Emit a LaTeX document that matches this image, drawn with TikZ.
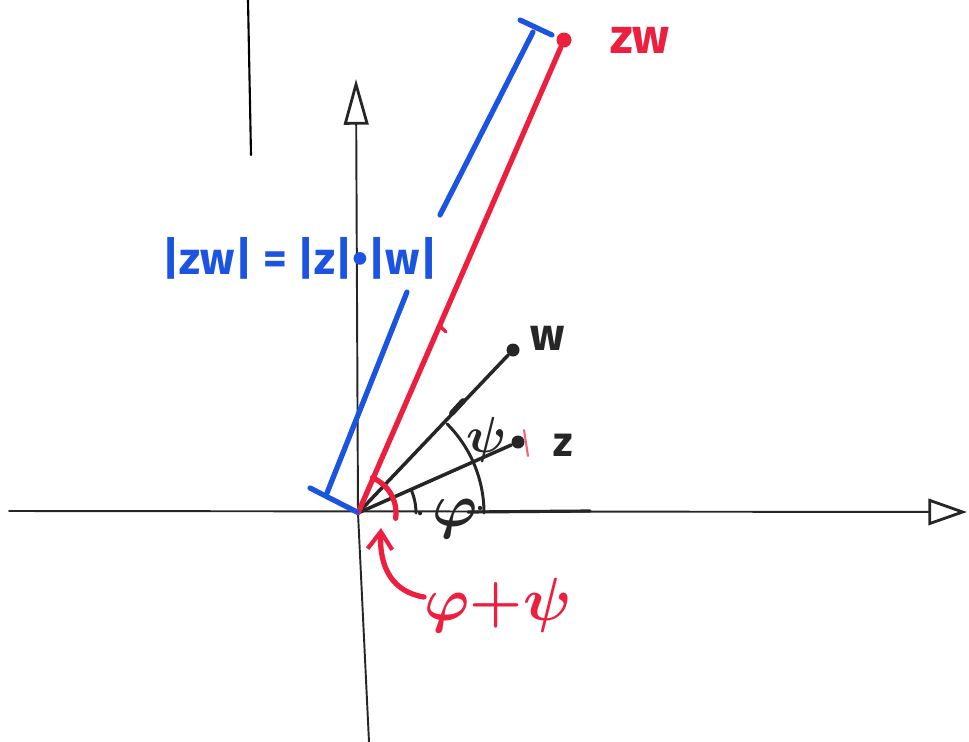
\documentclass[tikz,border=0pt]{standalone}
\usepackage{fontspec}
\setsansfont{Fira Sans}
\usepackage{amsmath}
\usepackage{bm}
\usetikzlibrary{arrows.meta}
\definecolor{penred}{RGB}{236,32,62}
\definecolor{penblue}{RGB}{28,84,226}
\definecolor{ink}{RGB}{38,38,38}
\begin{document}
\begin{tikzpicture}[x=0.01cm,y=-0.01cm,line cap=round,line join=round]
\tikzset{
  axis/.style={line width=0.55pt,black!85},
  vec/.style={line width=1pt,ink},
  rvec/.style={line width=1.5pt,penred},
  bvec/.style={line width=1.5pt,penblue},
  ang/.style={line width=0.85pt,ink},
  dot/.style={circle,fill=#1,inner sep=0pt,minimum size=0.13cm},
  hand/.style={inner sep=1pt,font=\sffamily\bfseries\fontsize{#1}{#1}\selectfont}}
\useasboundingbox (0,0) rectangle (969,742);
% ---------- axes ----------
\coordinate (O) at (358,513);
\coordinate (xs) at (9,511);
\coordinate (xe) at (967,512);
\coordinate (ys) at (369,742);
\coordinate (ye) at (356,79);
\draw[axis,-{Triangle[open,length=11pt,width=7.5pt,line width=0.8pt]}] (xs) -- (xe);
\draw[axis,-{Triangle[open,length=13pt,width=7pt,line width=0.8pt]}] (ys) -- (O) -- (ye);
% margin stroke
\coordinate (mtop) at (248,0);
\coordinate (mbot) at (251,155);
\draw[line width=0.6pt] (mtop) -- (mbot);
% ---------- z, w and zw ----------
\node[dot=ink] (w) at (513,350) {};
\node[dot=ink] (z) at (518,442) {};
\node[dot=penred,minimum size=0.15cm] (zw) at (564,40) {};
\draw[vec] (O) -- (w);
\draw[vec] (O) -- (z);
\draw[rvec] (O) -- (zw);
\draw[ink,line width=1.6pt] (452,413) -- (463,401);
\draw[ink,line width=0.9pt] (468,512) -- (590,511);
\draw[penred,line width=1pt] (440,326) -- (446,332);
\draw[penred!70,line width=0.6pt] (524,430) -- (528,456);
\node[hand=13,ink] (wl) at (548,338) {w};
\node[hand=12,ink] (zl) at (563,445) {z};
\node[hand=14,penred] (zwl) at (640,40) {zw};
% ---------- angles ----------
\draw[ang] (O) ++(0:58) arc[start angle=0,end angle=-24,radius=58];
\draw[ang] (O) ++(0:126) arc[start angle=0,end angle=-45,radius=126];
\fill[ink] (420,513) circle[radius=2.2];
\fill[ink] (480,508) circle[radius=2.2];
\node[inner sep=0pt,ink,font=\fontsize{16}{16}\selectfont] (phi) at (455,519) {$\bm{\varphi}$};
\node[inner sep=0pt,ink,font=\fontsize{14}{14}\selectfont] (psi) at (487,440) {$\bm{\psi}$};
\draw[rvec] (O) ++(8:38) arc[start angle=8,end angle=-68,radius=38];
\node[inner sep=1pt,penred,font=\fontsize{18}{18}\selectfont] (sum) at (498,605) {$\bm{\varphi}{\bm{+}}\bm{\psi}$};
\coordinate (sumfoot) at (424,597);
\coordinate (sumtip) at (381,528);
\draw[rvec,-{Straight Barb[length=5pt,width=7pt,line width=1.2pt]}]
  (sumfoot) .. controls (393,592) and (379,568) .. (sumtip);
% ---------- |zw| ----------
\coordinate (b1) at (327,493);
\coordinate (b2) at (407,292);
\coordinate (b3) at (440,215);
\coordinate (b4) at (533,32);
\coordinate (t1a) at (310,488);
\coordinate (t1b) at (357,512);
\coordinate (t2a) at (520,20);
\coordinate (t2b) at (552,35);
\draw[bvec] (b1) -- (b2);
\draw[bvec] (b3) -- (b4);
\draw[bvec] (t1a) -- (t1b);
\draw[bvec] (t2a) -- (t2b);
\node[hand=13,penblue] (abs) at (300,258) {|zw| = |z|\textbullet|w|};
\end{tikzpicture}
\end{document}
